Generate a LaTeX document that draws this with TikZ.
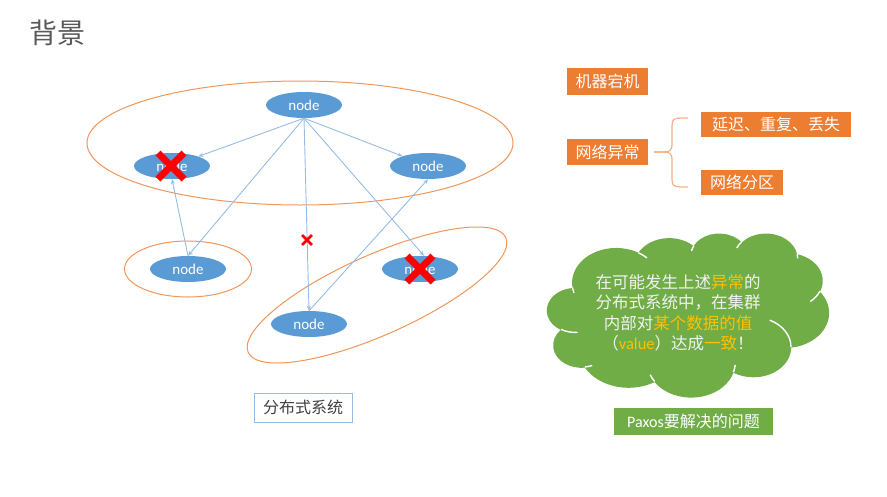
\documentclass[tikz,border=0pt]{standalone}
\usepackage{fontspec}
\setmainfont{Carlito}
\newfontfamily\cjk{Noto Sans CJK SC}
\newfontfamily\lat{Carlito}
\usetikzlibrary{shapes.geometric,shapes.misc,arrows.meta}
\definecolor{nodeblue}{RGB}{91,155,213}
\definecolor{linkblue}{RGB}{150,188,228}
\definecolor{grouporange}{RGB}{240,150,90}
\definecolor{boxorange}{RGB}{237,125,49}
\definecolor{braceorange}{RGB}{244,177,131}
\definecolor{cloudgreen}{RGB}{112,173,71}
\definecolor{gold}{RGB}{255,192,0}
\definecolor{titlegray}{RGB}{89,89,89}
\definecolor{textgray}{RGB}{64,64,64}
\definecolor{cloudtext}{RGB}{242,242,242}
\tikzset{
  nd/.style={ellipse, fill=nodeblue, text=white, minimum width=76pt, minimum height=26pt, inner sep=0pt, font=\lat\fontsize{15}{15}\selectfont},
  grp/.style={draw=grouporange, line width=1pt, ellipse, inner sep=0pt},
  link/.style={draw=linkblue, line width=0.9pt, -{Stealth[length=5pt,width=4pt]}},
  redx/.style={cross out, draw=red, inner sep=0pt},
  ob/.style={fill=boxorange, text=white, font=\cjk\fontsize{16}{16}\selectfont, inner sep=0pt},
  gb/.style={fill=cloudgreen, text=white, font=\fontsize{16}{16}\selectfont, inner sep=0pt},
  bracestyle/.style={draw=braceorange, line width=1.2pt},
  cloudline/.style={draw=white, line width=1.4pt},
  ooarc/.code n args={4}{%
    \pgfmathsetmacro\ooT{atan2((#1)*sin(#3),(#2)*cos(#3))}%
    \pgfmathsetmacro\ooU{atan2((#1)*sin((#3)+(#4)),(#2)*cos((#3)+(#4)))}%
    \pgfmathsetmacro\ooU{\ooU+360*round((\ooT+(#4)-\ooU)/360)}%
    \edef\oonext{\noexpand\tikzset{start angle=\ooT, end angle=\ooU, x radius=#1, y radius=#2}}\oonext},
}
\begin{document}
\begin{tikzpicture}[x=1pt,y=-1pt]
\useasboundingbox (0,0) rectangle (887,496);
% title
\node[text=titlegray, font=\cjk\fontsize{28}{28}\selectfont, inner sep=0pt] (title) at (58,33) {背景};
% group ellipses
\node[grp, minimum width=426pt, minimum height=124pt] (g1) at (300,143) {};
\node[grp, minimum width=127pt, minimum height=56pt] (g2) at (188,269) {};
\node[grp, minimum width=282pt, minimum height=80pt, rotate=24] (g3) at (377,295) {};
% nodes
\node[nd] (ntop) at (304,105) {node};
\node[nd] (nleft) at (172,166) {node};
\node[nd] (nright) at (428,166) {node};
\node[nd] (nml) at (188,269) {node};
\node[nd] (nmr) at (420,269) {node};
\node[nd] (nbot) at (309,324) {node};
% links
\draw[link] (ntop.south) -- (nleft);
\draw[link] (ntop.south) -- (nright);
\draw[link] (ntop.south) -- (nml.north);
\draw[link] (ntop.south) -- (nbot.north);
\draw[link] (ntop.south) -- ([xshift=4pt]nmr.north);
\draw[link] (nml.north) -- (nleft.south);
\draw[link] (nbot.north) -- (nright.south);
% crosses
\node[redx, line width=7pt, minimum size=19pt] (x1) at (171,166) {};
\node[redx, line width=7pt, minimum size=19pt] (x2) at (420,269) {};
\node[redx, line width=2.8pt, minimum size=7pt] (x3) at (307,240) {};
% right side boxes
\node[ob, minimum width=81pt, minimum height=27pt] (b1) at (607.5,81.5) {机器宕机};
\node[ob, minimum width=81pt, minimum height=26pt] (b2) at (607.5,152) {网络异常};
\node[ob, minimum width=150pt, minimum height=25pt] (b3) at (776,124) {延迟、重复、丢失};
\node[ob, minimum width=82pt, minimum height=25pt] (b4) at (742,182.5) {网络分区};
% brace
\coordinate (btop) at (688,118);
\coordinate (btip) at (654,152);
\coordinate (bbot) at (688,187);
\draw[bracestyle] (btop) .. controls (672,118) .. (672,130) -- (672,142) .. controls (672,152) .. (btip);
\draw[bracestyle] (btip) .. controls (672,152) .. (672,162) -- (672,175) .. controls (672,187) .. (bbot);
% cloud (PowerPoint cloud outline, 4320 units box)
\coordinate (cloud) at (688,315);
\begin{scope}[shift={(547,233)}, x=0.065278pt, y=-0.037963pt]
\fill[cloudgreen] (390,1437)
 arc[ooarc={675.3}{919.0}{-190.487}{123.781}]
 arc[ooarc={533.3}{726.7}{-144.102}{89.945}]
 arc[ooarc={436.5}{594.5}{-145.808}{99.723}]
 arc[ooarc={485.7}{659.5}{-130.986}{117.242}]
 arc[ooarc={533.3}{727.3}{-78.709}{109.027}]
 arc[ooarc={677.5}{922.0}{-46.267}{130.269}]
 arc[ooarc={578.5}{786.7}{0.625}{114.033}]
 arc[ooarc={675.2}{921.5}{22.452}{115.173}]
 arc[ooarc={772.0}{1054.3}{66.243}{75.711}]
 arc[ooarc={436.0}{591.8}{-274.942}{146.736}]
 arc[ooarc={434.5}{594.5}{-246.829}{152.519}]
 -- cycle;
\draw[cloudline] (469.3,2617.7) arc[ooarc={434.5}{594.5}{86.742}{26.430}];
\draw[cloudline] (692.8,3489.9) arc[ooarc={436.0}{591.8}{73.610}{11.447}];
\draw[cloudline] (1647.8,3909.0) arc[ooarc={675.2}{921.5}{137.624}{14.081}];
\draw[cloudline] (2882.7,3475.1) arc[ooarc={675.2}{921.5}{6.453}{15.998}];
\draw[cloudline] (3412.9,2295.4) arc[ooarc={578.5}{786.7}{-70.292}{70.917}];
\draw[cloudline] (4179.8,1535.4) arc[ooarc={533.3}{727.3}{30.318}{27.752}];
\draw[cloudline] (3832.4,542.6) arc[ooarc={485.7}{659.5}{-13.744}{14.859}];
\draw[cloudline] (2907.8,395.2) arc[ooarc={485.7}{659.5}{-149.181}{18.195}];
\draw[cloudline] (2214.1,472.0) arc[ooarc={436.5}{594.5}{-163.494}{17.686}];
\draw[cloudline] (1400.0,519.2) arc[ooarc={675.3}{919.0}{-66.707}{12.319}];
\draw[cloudline] (412.7,1578.9) arc[ooarc={675.3}{919.0}{157.654}{11.858}];
\end{scope}
\node[text=cloudtext, align=center, font=\cjk\fontsize{16.5}{20.5}\selectfont, inner sep=0pt] (ctext) at (678,313)
 {在可能发生上述\textcolor{gold}{异常}的\\分布式系统中，在集群\\内部对\textcolor{gold}{某个数据的值}\\（\textcolor{gold}{\lat value}）达成\textcolor{gold}{一致}！};
\node[gb, minimum width=159pt, minimum height=27pt] (paxos) at (693.5,421) {{\lat Paxos}{\cjk 要解决的问题}};
% system label
\node[draw=linkblue, line width=1pt, fill=white, text=textgray, font=\cjk\fontsize{16}{16}\selectfont, minimum width=98pt, minimum height=29pt, inner sep=0pt] (sys) at (303,407.5) {分布式系统};
\end{tikzpicture}
\end{document}
